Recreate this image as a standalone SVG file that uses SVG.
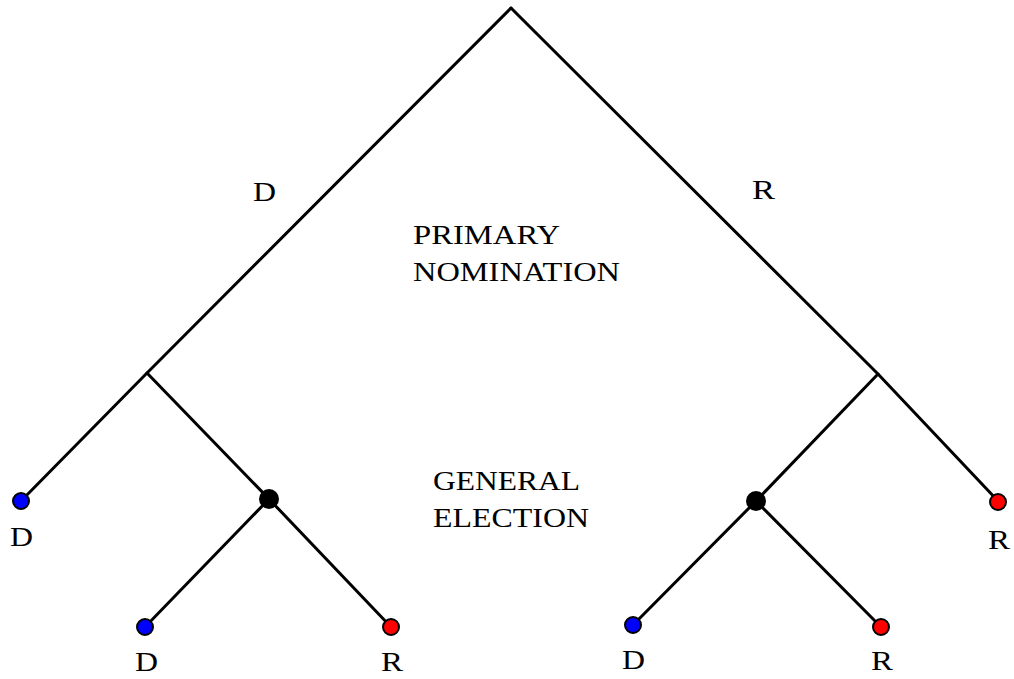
<svg xmlns="http://www.w3.org/2000/svg" width="1014" height="679" viewBox="0 0 1014 679">
<style>
.e{stroke:#000;stroke-width:3;fill:none;stroke-linecap:round}
.t{font-family:"Liberation Serif","Times New Roman",serif;font-size:27px;fill:#000}
.c{text-anchor:middle}
.b{fill:#0000ff;stroke:#000;stroke-width:2}
.r{fill:#ff0000;stroke:#000;stroke-width:2}
.k{fill:#000}
</style>
<rect width="1014" height="679" fill="#fff"/>
<g id="connectors">
<path class="e" d="M511 8 L147 373 L21 501"/>
<path class="e" d="M511 8 L878 374 L998 501"/>
<path class="e" d="M147 373 L269 499 L145 627"/>
<path class="e" d="M269 499 L391 627"/>
<path class="e" d="M878 374 L756 501 L633 625"/>
<path class="e" d="M756 501 L881 627"/>
</g>
<g id="labels">
<text class="t" x="253" y="201" textLength="23" lengthAdjust="spacingAndGlyphs">D</text>
<text class="t" x="752" y="199" textLength="23" lengthAdjust="spacingAndGlyphs">R</text>
<text class="t" x="413" y="244" textLength="147" lengthAdjust="spacingAndGlyphs">PRIMARY</text>
<text class="t" x="413" y="281" textLength="207" lengthAdjust="spacingAndGlyphs">NOMINATION</text>
<text class="t" x="433" y="490" textLength="147" lengthAdjust="spacingAndGlyphs">GENERAL</text>
<text class="t" x="433" y="527" textLength="156" lengthAdjust="spacingAndGlyphs">ELECTION</text>
</g>
<g id="root"></g>
<g id="nodeD1"><circle class="b" cx="21" cy="501" r="8"/><text class="t" x="10" y="546" textLength="23" lengthAdjust="spacingAndGlyphs">D</text></g>
<g id="nodeR1"><circle class="r" cx="998" cy="502" r="8"/><text class="t" x="988" y="549" textLength="22" lengthAdjust="spacingAndGlyphs">R</text></g>
<g id="chanceL"><circle class="k" cx="269" cy="499" r="10"/></g>
<g id="chanceR"><circle class="k" cx="756" cy="501" r="10"/></g>
<g id="nodeD2"><circle class="b" cx="145" cy="627" r="8"/><text class="t" x="135" y="671" textLength="23" lengthAdjust="spacingAndGlyphs">D</text></g>
<g id="nodeR2"><circle class="r" cx="391" cy="627" r="8"/><text class="t" x="381" y="671" textLength="22" lengthAdjust="spacingAndGlyphs">R</text></g>
<g id="nodeD3"><circle class="b" cx="633" cy="625" r="8"/><text class="t" x="622" y="669" textLength="23" lengthAdjust="spacingAndGlyphs">D</text></g>
<g id="nodeR3"><circle class="r" cx="881" cy="627" r="8"/><text class="t" x="871" y="670" textLength="22" lengthAdjust="spacingAndGlyphs">R</text></g>
</svg>
